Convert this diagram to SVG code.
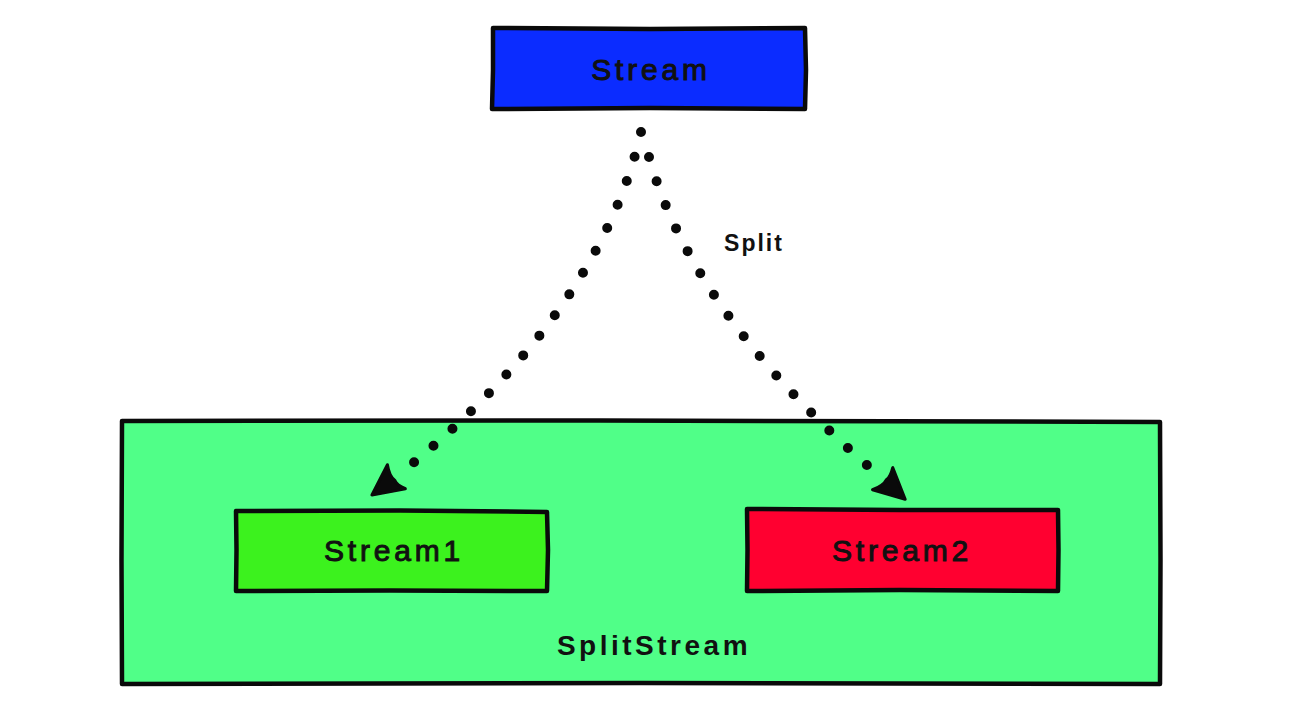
<svg xmlns="http://www.w3.org/2000/svg" width="1312" height="728" viewBox="0 0 1312 728">
  <style>
    .box { stroke: #0a0a0a; stroke-width: 4.5; stroke-linejoin: round; stroke-linecap: round; }
    .lbl { font-family: "Liberation Sans", Arial, sans-serif; fill: #111; text-anchor: middle; }
    .node { font-size: 30px; letter-spacing: 3.8px; stroke: #111; stroke-width: 1; }
    .dots { fill: none; stroke: #0a0a0a; stroke-width: 10; stroke-linecap: round; stroke-dasharray: 0 25.5; }
  </style>
  <defs>
    <!-- chunky hand-drawn wedge; the dotted line ends at its back -->
    <marker id="blob" viewBox="0 0 40 40" refX="6" refY="20" markerWidth="40" markerHeight="40" markerUnits="userSpaceOnUse" orient="auto">
      <path d="M36,21 L6,5 C9,11 10,15 9,18 C10,22 9,28 5,35 Z" fill="#0a0a0a" stroke="#0a0a0a" stroke-width="3" stroke-linejoin="round"/>
    </marker>
  </defs>
  <rect width="1312" height="728" fill="#ffffff"/>

  <g id="splitstream">
    <path class="box" fill="#50ff88" d="M122,421 L600,420.5 L1160,422 L1160.5,560 L1160,684 L640,683 L122,684 L121.5,560 Z"/>
    <text class="lbl" x="654" y="655" font-size="28" font-weight="bold" letter-spacing="3.5">SplitStream</text>
  </g>

  <g id="stream">
    <path class="box" fill="#0b2cff" d="M493,28 L650,29 L805,28 L806,70 L805,109 L650,108 L492,109 L493,70 Z"/>
    <text class="lbl node" x="651" y="80">Stream</text>
  </g>

  <g id="stream1">
    <path class="box" fill="#3cf21e" d="M236,511 L400,510.5 L547,512 L548,550 L547,591 L390,590.5 L236,591 L236.5,550 Z"/>
    <text class="lbl node" x="394" y="561">Stream1</text>
  </g>

  <g id="stream2">
    <path class="box" fill="#ff0030" d="M747,509 L900,510 L1058,510 L1058.5,550 L1058,591 L900,590 L747,591 L747.5,550 Z"/>
    <text class="lbl node" x="902" y="561">Stream2</text>
  </g>

  <g id="connectors">
    <path class="dots" d="M641,132 Q599,315 396,477" marker-end="url(#blob)"/>
    <path class="dots" d="M649,157 Q694,318 883,479" marker-end="url(#blob)"/>
    <text class="lbl" x="754" y="251" font-size="23" font-weight="bold" letter-spacing="2" fill="#1a0a22">Split</text>
  </g>
</svg>
